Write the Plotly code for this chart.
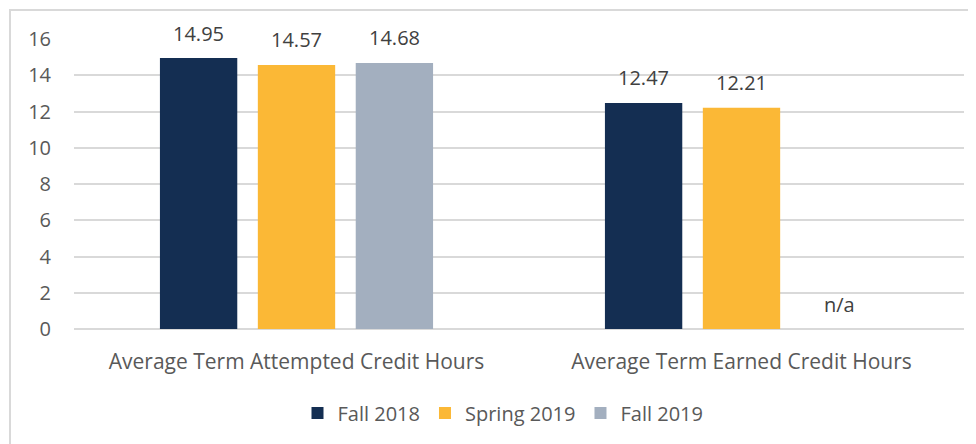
import plotly.graph_objects as go

categories = ["Average Term Attempted Credit Hours", "Average Term Earned Credit Hours"]
series_names = ["Fall 2018", "Spring 2019", "Fall 2019"]
fall_2018 = [14.95, 12.47]
spring_2019 = [14.57, 12.21]
fall_2019 = [14.68, None]
y_ticks = [0, 2, 4, 6, 8, 10, 12, 14, 16]

colors = ["#142E52", "#FBB836", "#A3AFBF"]
FONT = "Open Sans"
FS = 20
BARGAP = 0.34
BARGROUPGAP = 0.21

# page has an 8px body margin; figure is sized to fill the rest of the window
W, H = 968, 436
L, R, T, B = 66, 12, 31, 115
pw = W - L - R
ph = H - T - B

all_series = [fall_2018, spring_2019, fall_2019]

fig = go.Figure()
for name, vals, col in zip(series_names, all_series, colors):
    fig.add_trace(go.Bar(
        name=name, x=categories, y=vals, marker_color=col, marker_line_width=0,
    ))

slot = (1 - BARGAP) * (pw / len(categories)) / len(series_names)
annotations = []
for i, vals in enumerate(all_series):
    for j, v in enumerate(vals):
        annotations.append(dict(
            x=categories[j], y=v if v is not None else 0, xref="x", yref="y",
            text=f"{v:.2f}" if v is not None else "n/a",
            showarrow=False, xshift=(i - 1) * slot, yshift=25, yanchor="middle",
            font=dict(family=FONT, size=FS, color="#404040"),
        ))

fig.update_layout(
    width=W, height=H,
    margin=dict(l=L, r=R, t=T, b=B),
    paper_bgcolor="white", plot_bgcolor="white",
    barmode="group", bargap=BARGAP, bargroupgap=BARGROUPGAP,
    font=dict(family=FONT, size=FS, color="#595959"),
    showlegend=True,
    legend=dict(orientation="h", x=(503 - 74) / pw, xanchor="center", y=(321 - 405) / ph, yanchor="middle",
                font=dict(family=FONT, size=FS, color="#595959"), traceorder="normal"),
    xaxis=dict(showgrid=False, showline=False, ticks="outside", ticklen=14,
               tickcolor="rgba(0,0,0,0)", tickfont=dict(family=FONT, size=21, color="#595959")),
    yaxis=dict(range=[0, 16], tickvals=y_ticks, showgrid=True, gridcolor="#D9D9D9", gridwidth=2,
               zeroline=True, zerolinecolor="#D9D9D9", zerolinewidth=2,
               showline=False, ticks="outside", ticklen=18, tickcolor="rgba(0,0,0,0)",
               tickfont=dict(family=FONT, size=FS, color="#595959")),
    annotations=annotations,
    shapes=[dict(type="rect", xref="paper", yref="paper",
                 x0=(2 - L) / pw, x1=(W + 20 - L) / pw,
                 y0=-(H + 20 - T - ph) / ph, y1=1 + (T - 2) / ph,
                 line=dict(color="#D9D9D9", width=2), fillcolor="rgba(0,0,0,0)", layer="below")],
)

fig.write_html("out.html")
